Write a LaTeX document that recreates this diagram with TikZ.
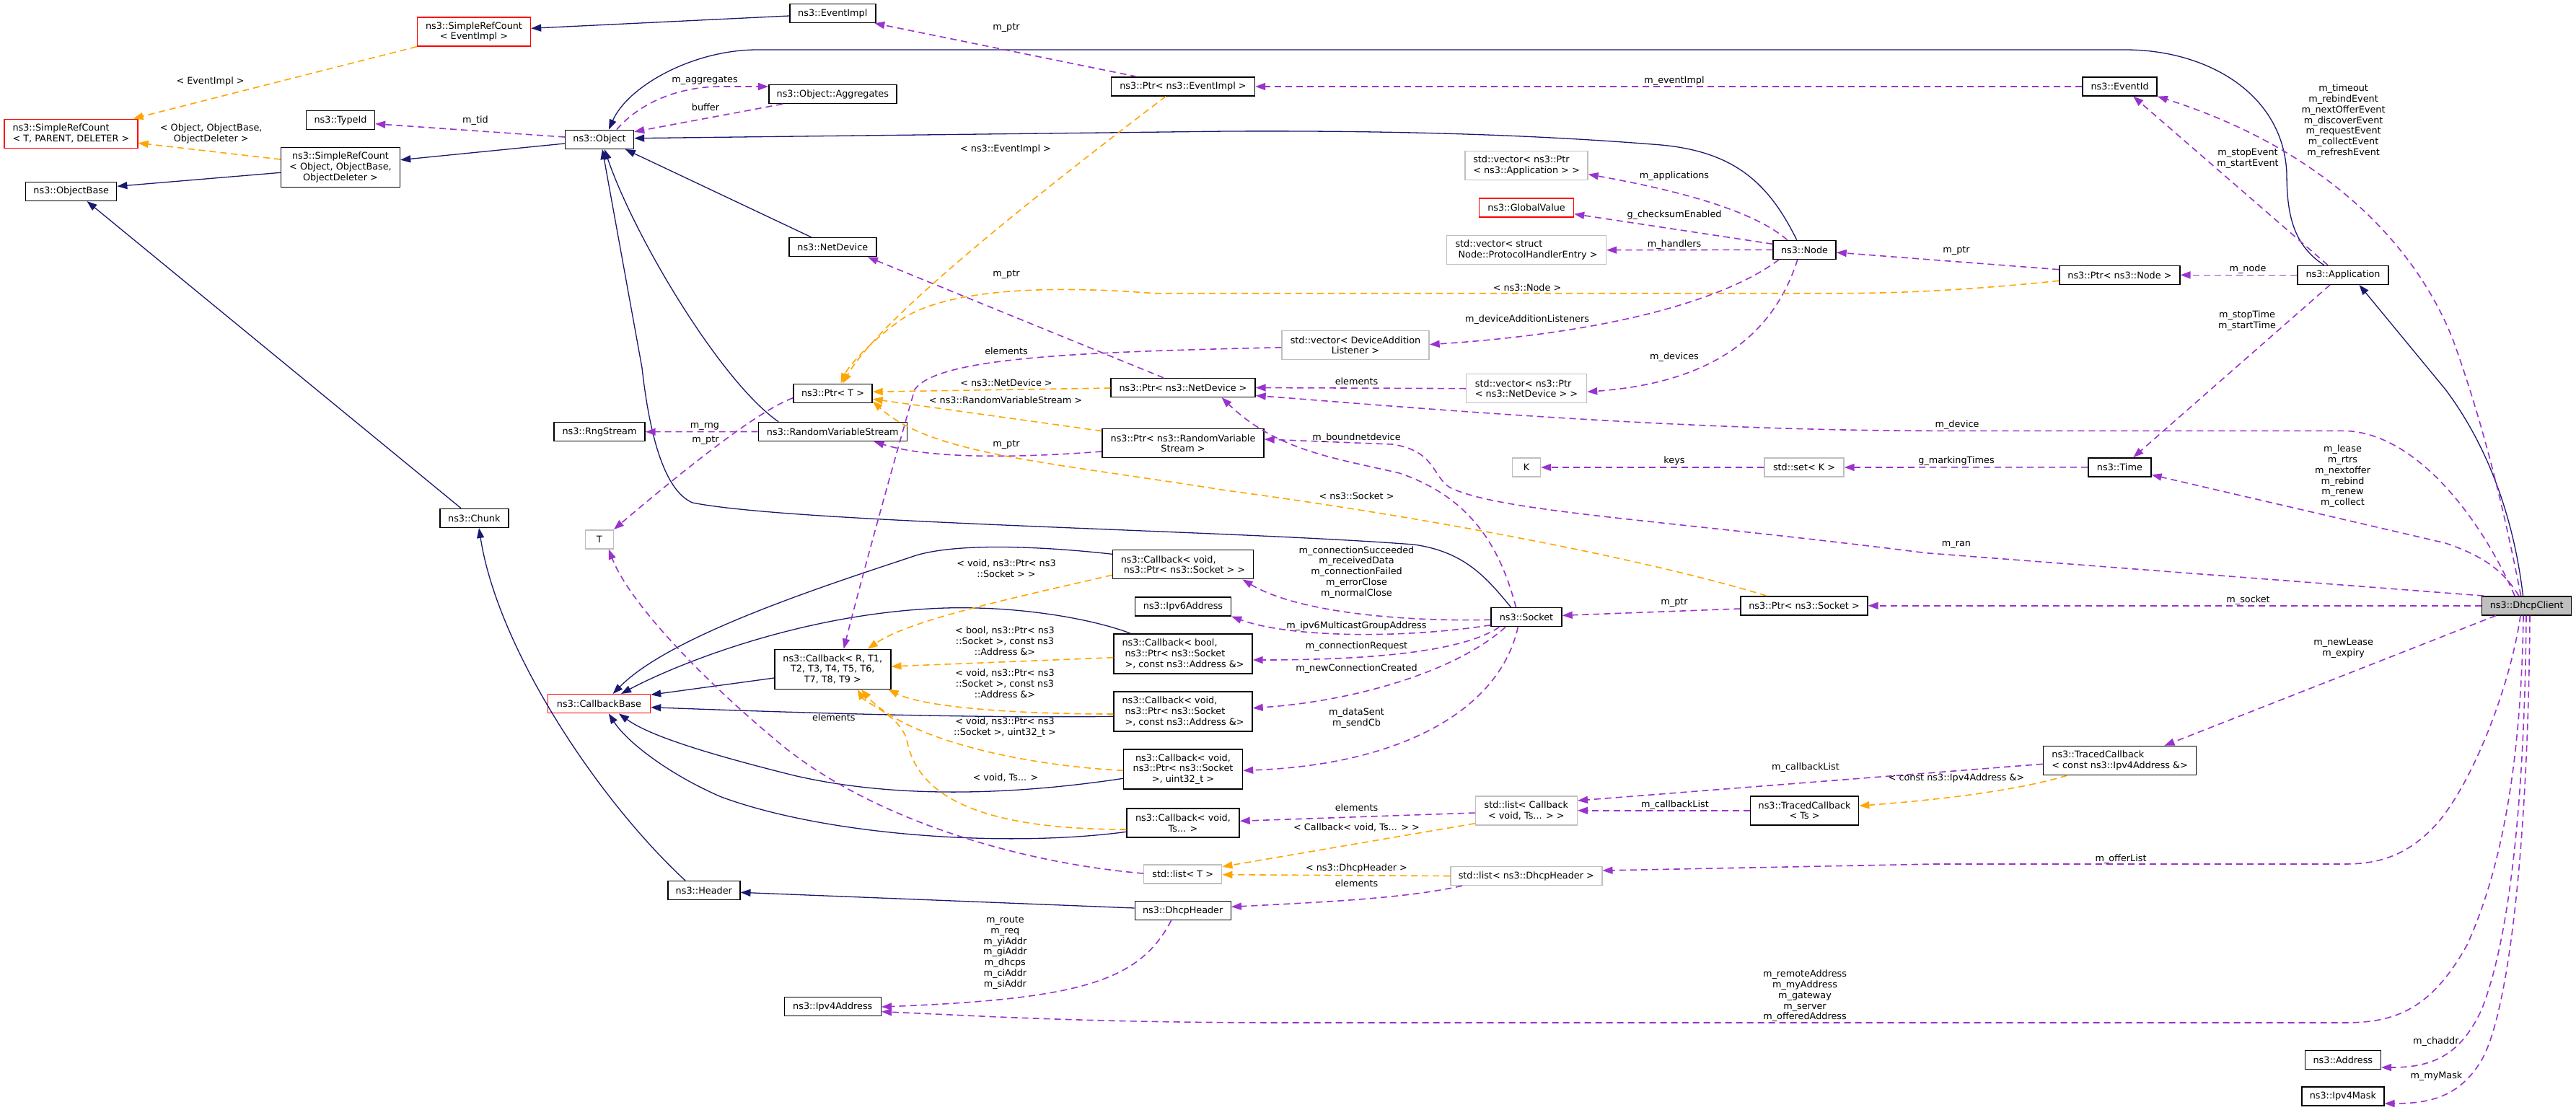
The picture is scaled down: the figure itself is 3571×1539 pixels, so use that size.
\documentclass[tikz,border=0pt]{standalone}
\usepackage{fontspec}
\setmainfont{DejaVu Sans}
\usetikzlibrary{arrows.meta}
\definecolor{inhc}{HTML}{191970}
\definecolor{usec}{HTML}{9A32CD}
\definecolor{tplc}{HTML}{FFA500}
\definecolor{grayb}{HTML}{BFBFBF}
\begin{document}
\begin{tikzpicture}[x=1pt,y=-1pt,
  every node/.style={font=\fontsize{12.8}{14.8}\selectfont},
  box/.style={draw=black, fill=white, line width=1.4pt, inner xsep=4pt, inner ysep=3pt, align=center},
  gbox/.style={box, draw=grayb},
  rbox/.style={box, draw=red},
  lbl/.style={align=center, inner sep=0pt},
  inh/.style={draw=inhc, line width=1.3pt, -{Triangle[length=14pt,width=10pt]}},
  use/.style={draw=usec, line width=1.6pt, dash pattern=on 9pt off 6pt, -{Triangle[length=14pt,width=10pt]}},
  tpl/.style={use, draw=tplc},
]
\useasboundingbox (0,0) rectangle (3571,1539);
% ---------- nodes ----------
\node[rbox, minimum width=157pt, minimum height=40pt] (srcEI) at (657,44) {ns3::SimpleRefCount\\< EventImpl >};
\node[rbox, minimum width=185pt, minimum height=40pt, align=left] (srcT) at (98.4,185.2) {ns3::SimpleRefCount\\< T, PARENT, DELETER >};
\node[box, minimum width=95pt, minimum height=26pt] (typeid) at (472,166.7) {ns3::TypeId};
\node[box, minimum width=95pt, minimum height=26pt] (object) at (831,193.3) {ns3::Object};
\node[box, minimum width=165pt, minimum height=55pt] (srcO) at (472,232) {ns3::SimpleRefCount\\< Object, ObjectBase,\\ObjectDeleter >};
\node[box, minimum width=126pt, minimum height=26pt] (objbase) at (98.7,265.3) {ns3::ObjectBase};
\node[box, minimum width=119pt, minimum height=26pt] (eventimpl) at (1154.3,18.5) {ns3::EventImpl};
\node[box, minimum width=177pt, minimum height=26pt] (aggr) at (1154.3,130.5) {ns3::Object::Aggregates};
\node[box, minimum width=199pt, minimum height=26pt] (ptrEI) at (1640,120) {ns3::Ptr< ns3::EventImpl >};
\node[box, minimum width=121pt, minimum height=26pt] (netdev) at (1154.3,342.7) {ns3::NetDevice};
\node[gbox, minimum width=170pt, minimum height=40pt, align=left] (vecApp) at (2116,229.2) {std::vector< ns3::Ptr\\< ns3::Application > >};
\node[rbox, minimum width=131pt, minimum height=26pt] (global) at (2116,287.8) {ns3::GlobalValue};
\node[gbox, minimum width=221pt, minimum height=40pt, align=left] (vecPHE) at (2116,346.7) {std::vector< struct\\\ Node::ProtocolHandlerEntry >};
\node[box, minimum width=87pt, minimum height=26pt] (node) at (2501.5,346.3) {ns3::Node};
\node[gbox, minimum width=204pt, minimum height=40pt] (vecDAL) at (1879,478.7) {std::vector< DeviceAddition\\Listener >};
\node[box, minimum width=103pt, minimum height=26pt] (eventid) at (2938.6,120) {ns3::EventId};
\node[box, minimum width=167pt, minimum height=26pt] (ptrNode) at (2938.4,381.3) {ns3::Ptr< ns3::Node >};
\node[box, minimum width=126pt, minimum height=26pt] (app) at (3248,381.3) {ns3::Application};
\node[box, minimum width=126pt, minimum height=26pt] (rng) at (831,598.7) {ns3::RngStream};
\node[box, minimum width=95pt, minimum height=26pt] (chunk) at (657.3,718.3) {ns3::Chunk};
\node[gbox, minimum width=39pt, minimum height=26pt] (T) at (830.7,747.8) {T};
\node[rbox, minimum width=142pt, minimum height=26pt] (cbbase) at (830.5,975.7) {ns3::CallbackBase};
\node[box, minimum width=109pt, minimum height=26pt] (ptrT) at (1154.5,545.2) {ns3::Ptr< T >};
\node[box, minimum width=206pt, minimum height=26pt] (rvs) at (1154.3,598.5) {ns3::RandomVariableStream};
\node[box, minimum width=200pt, minimum height=26pt] (ptrND) at (1640,537.5) {ns3::Ptr< ns3::NetDevice >};
\node[box, minimum width=224pt, minimum height=40pt] (ptrRVS) at (1640,614.7) {ns3::Ptr< ns3::RandomVariable\\Stream >};
\node[box, minimum width=195pt, minimum height=40pt, align=left] (cbSock) at (1640,782.7) {ns3::Callback< void,\\\ ns3::Ptr< ns3::Socket > >};
\node[box, minimum width=133pt, minimum height=26pt] (ipv6) at (1640,841) {ns3::Ipv6Address};
\node[box, minimum width=161pt, minimum height=55pt] (cbR) at (1154.3,927.8) {ns3::Callback< R, T1,\\T2, T3, T4, T5, T6,\\T7, T8, T9 >};
\node[box, minimum width=192pt, minimum height=55pt, align=left] (cbBool) at (1640,906.5) {ns3::Callback< bool,\\\ ns3::Ptr< ns3::Socket\\\ >, const ns3::Address \&>};
\node[box, minimum width=192pt, minimum height=55pt, align=left] (cbAddr) at (1640,986.3) {ns3::Callback< void,\\\ ns3::Ptr< ns3::Socket\\\ >, const ns3::Address \&>};
\node[box, minimum width=165pt, minimum height=55pt] (cbU32) at (1640,1066.5) {ns3::Callback< void,\\ns3::Ptr< ns3::Socket\\>, uint32\_t >};
\node[box, minimum width=156pt, minimum height=40pt] (cbTs) at (1640,1141) {ns3::Callback< void,\\Ts... >};
\node[gbox, minimum width=108pt, minimum height=26pt] (listT) at (1639.7,1212) {std::list< T >};
\node[box, minimum width=100pt, minimum height=26pt] (header) at (975.8,1234.5) {ns3::Header};
\node[box, minimum width=133pt, minimum height=26pt] (dhcpHdr) at (1639.7,1262.5) {ns3::DhcpHeader};
\node[box, minimum width=134pt, minimum height=26pt] (ipv4) at (1154.3,1395.5) {ns3::Ipv4Address};
\node[gbox, minimum width=141pt, minimum height=40pt] (listCb) at (2115.8,1123.8) {std::list< Callback\\< void, Ts... > >};
\node[box, minimum width=150pt, minimum height=40pt] (tcTs) at (2501.6,1123.8) {ns3::TracedCallback\\< Ts >};
\node[gbox, minimum width=210pt, minimum height=26pt] (listDH) at (2115.8,1214.5) {std::list< ns3::DhcpHeader >};
\node[box, minimum width=212pt, minimum height=40pt, align=left] (tcIpv4) at (2938.6,1054.5) {ns3::TracedCallback\\< const ns3::Ipv4Address \&>};
\node[box, minimum width=105pt, minimum height=26pt] (address) at (3247.8,1469.5) {ns3::Address};
\node[box, minimum width=114pt, minimum height=26pt] (ipv4mask) at (3247.8,1520) {ns3::Ipv4Mask};
\node[box, minimum width=87pt, minimum height=26pt] (time) at (2938.4,647.8) {ns3::Time};
\node[box, fill=grayb, minimum width=124pt, minimum height=26pt] (dhcp) at (3502.7,839.8) {ns3::DhcpClient};
\node[gbox, minimum width=167pt, minimum height=40pt, align=left] (vecND) at (2116,538.7) {std::vector< ns3::Ptr\\< ns3::NetDevice > >};
\node[gbox, minimum width=39pt, minimum height=26pt] (K) at (2116,648) {K};
\node[gbox, minimum width=110pt, minimum height=26pt] (setK) at (2501,648) {std::set< K >};
\node[box, minimum width=98pt, minimum height=26pt] (socket) at (2116,855.7) {ns3::Socket};
\node[box, minimum width=176pt, minimum height=26pt] (ptrSock) at (2501,839.8) {ns3::Ptr< ns3::Socket >};
% ---------- inheritance ----------
\draw[inh] ([yshift=-3.5pt]eventimpl.west) -- ([yshift=4.7pt]srcEI.east);
\draw[inh] ([yshift=-5.7pt]object.west) -- ([yshift=10.3pt]srcO.east);
\draw[inh] ([yshift=-7.3pt]srcO.west) -- ([yshift=7pt]objbase.east);
\draw[inh] ([xshift=-18.3pt]chunk.north) -- ([xshift=21.8pt]objbase.south);
\draw[inh] ([xshift=-25.8pt]header.north) .. controls (830,1110) and (690,900) .. ([xshift=6.7pt]chunk.south);
\draw[inh] ([xshift=-26.4pt]app.north) .. controls (3180,340) and (3170,300) .. (3170,240) .. controls (3165,130) and (3060,69) .. (2946,69) -- (1050,69) .. controls (960,69) and (870,120) .. ([xshift=13pt]object.north);
\draw[inh] ([xshift=-10.8pt]node.north) .. controls (2450,250) and (2400,207) .. (2290,200) .. controls (2100,185) and (1900,181) .. (1700,182) -- ([yshift=1.6pt]object.east);
\draw[inh] ([xshift=-29.3pt]netdev.north) -- ([xshift=35.8pt]object.south);
\draw[inh] ([xshift=-75pt]rvs.north) .. controls (1000,530) and (880,330) .. ([xshift=7pt]object.south);
\draw[inh] ([xshift=-21.4pt]socket.north) .. controls (2060,800) and (2030,765) .. (1960,755) .. controls (1700,735) and (1100,725) .. (960,697) .. controls (920,680) and (900,600) .. (890,510) -- ([xshift=4pt]object.south);
\draw[inh] ([yshift=-12.2pt]cbR.west) -- ([yshift=12.4pt]cbbase.east);
\draw[inh] ([yshift=14.4pt]cbSock.west) .. controls (1450,758) and (1330,752) .. (1270,770) .. controls (1150,810) and (930,880) .. ([xshift=19.1pt]cbbase.north);
\draw[inh] ([xshift=-72.6pt]cbBool.north) .. controls (1520,860) and (1420,840) .. (1310,843) .. controls (1100,850) and (920,930) .. ([xshift=30.5pt]cbbase.north);
\draw[inh] ([yshift=-7pt]cbAddr.west) .. controls (1350,996) and (1100,988) .. ([yshift=-5pt]cbbase.east);
\draw[inh] ([yshift=-12.8pt]cbU32.west) .. controls (1420,1100) and (1250,1110) .. (1100,1075) .. controls (980,1045) and (900,1020) .. ([xshift=27.5pt]cbbase.south);
\draw[inh] ([yshift=-12.3pt]cbTs.west) .. controls (1400,1175) and (1150,1160) .. (1000,1105) .. controls (930,1075) and (870,1030) .. ([xshift=13.3pt]cbbase.south);
\draw[inh] ([yshift=3.5pt]dhcpHdr.west) -- ([yshift=-2.8pt]header.east);
\draw[inh] ([xshift=-5.2pt]dhcp.north) .. controls (3485,720) and (3450,620) .. (3390,540) -- ([xshift=22.5pt]app.south);
% ---------- usage ----------
\draw[use] ([xshift=-64pt]ptrEI.north) -- ([xshift=58pt]eventimpl.south);
\draw[use] ([yshift=3.3pt]object.west) -- ([yshift=-5pt]typeid.east);
\draw[use] ([xshift=24pt]object.north) .. controls (880,150) and (930,120) .. (1000,120) -- ([yshift=10.5pt]aggr.west);
\draw[use] ([xshift=-69.3pt]aggr.south) -- ([yshift=10.6pt]object.east);
\draw[use] (eventid.west) -- (ptrEI.east);
\draw[use] ([xshift=-21pt]app.north) -- ([xshift=18.7pt]eventid.south);
\draw[use] ([xshift=-8.1pt]dhcp.north) .. controls (3470,700) and (3440,580) .. (3400,470) .. controls (3340,320) and (3200,200) .. (eventid.south east);
\draw[use] (app.west) -- (ptrNode.east);
\draw[use] ([yshift=7.6pt]ptrNode.west) -- ([yshift=-3.7pt]node.east);
\draw[use] ([xshift=-24pt]node.north) .. controls (2440,300) and (2360,270) .. ([yshift=-12.5pt]vecApp.east);
\draw[use] ([yshift=8pt]node.west) -- ([yshift=-8.9pt]global.east);
\draw[use] (node.west) -- (vecPHE.east);
\draw[use] ([xshift=-35.5pt]node.south) .. controls (2400,410) and (2250,460) .. ([yshift=1pt]vecDAL.east);
\draw[use] ([xshift=-9.7pt]node.south) .. controls (2460,460) and (2380,530) .. ([yshift=-4.6pt]vecND.east);
\draw[use] ([xshift=-27pt]ptrND.north) -- ([xshift=48.6pt]netdev.south);
\draw[use] ([yshift=-6.5pt]ptrT.west) .. controls (1050,570) and (950,650) .. (T.north east);
\draw[use] (rvs.west) -- (rng.east);
\draw[use] ([yshift=-11.3pt]ptrRVS.west) .. controls (1450,632) and (1300,640) .. ([xshift=57.2pt]rvs.south);
\draw[use] (vecND.west) -- (ptrND.east);
\draw[use] ([xshift=-16.7pt]dhcp.north) .. controls (3440,720) and (3350,600) .. (3250,597.3) -- (2680,597.3) .. controls (2300,597) and (1900,560) .. ([yshift=-11pt]ptrND.east);
\draw[use] ([xshift=-14.5pt]socket.north) .. controls (2080,760) and (2040,690) .. (1940,656) .. controls (1850,635) and (1770,625) .. ([xshift=53.6pt]ptrND.south);
\draw[use] ([xshift=3pt]dhcp.north west) -- (2670,766.7) .. controls (2300,720) and (2080,710) .. (2010,676) .. controls (1985,660) and (1990,625) .. (1930,616) -- ([yshift=5.7pt]ptrRVS.east);
\draw[use] (dhcp.west) -- (ptrSock.east);
\draw[use] ([yshift=-4.2pt]ptrSock.west) -- ([yshift=2.4pt]socket.east);
\draw[use] ([xshift=-18pt]app.south) -- ([xshift=18.9pt]time.north);
\draw[use] ([xshift=-11pt]dhcp.north) .. controls (3470,790) and (3440,770) .. (3390,753) -- ([yshift=-10.5pt]time.east);
\draw[use] (time.west) -- (setK.east);
\draw[use] (setK.west) -- (K.east);
\draw[use] ([yshift=-3.6pt]socket.west) .. controls (1950,862) and (1800,850) .. ([xshift=82.4pt]cbSock.south);
\draw[use] ([yshift=-11pt]socket.west) .. controls (1950,885) and (1790,885) .. (ipv6.south east);
\draw[use] ([xshift=-37.5pt]socket.south) .. controls (2040,895) and (1950,915) .. ([yshift=-8.5pt]cbBool.east);
\draw[use] ([xshift=-29pt]socket.south) .. controls (2020,930) and (1880,972) .. ([yshift=4.6pt]cbAddr.east);
\draw[use] ([xshift=-11.7pt]socket.south) .. controls (2080,980) and (1950,1060) .. ([yshift=-1.8pt]cbU32.east);
\draw[use] ([yshift=-3pt]vecDAL.west) .. controls (1500,488) and (1300,495) .. (1268,540) .. controls (1245,620) and (1200,780) .. ([xshift=15.3pt]cbR.north);
\draw[use] ([yshift=1pt]listT.west) .. controls (1400,1195) and (1200,1130) .. (1080,1030) .. controls (960,930) and (870,830) .. ([xshift=13.1pt]T.south);
\draw[use] ([yshift=-3.2pt]listCb.west) -- ([yshift=2.7pt]cbTs.east);
\draw[use] (tcTs.west) -- (listCb.east);
\draw[use] ([yshift=-4.8pt]tcIpv4.west) -- ([yshift=13.8pt]listCb.east);
\draw[use] ([xshift=-42.7pt]dhcp.south) -- ([xshift=61.8pt]tcIpv4.north);
\draw[use] ([xshift=-8.7pt]dhcp.south) .. controls (3480,950) and (3430,1080) .. (3380,1140) .. controls (3340,1185) and (3300,1198) .. (3250,1198) -- (2680,1198) -- ([yshift=7.5pt]listDH.east);
\draw[use] ([xshift=-4.7pt]dhcp.south) .. controls (3495,1050) and (3470,1200) .. (3420,1310) .. controls (3370,1400) and (3320,1418) .. (3250,1418) -- (1790,1418) .. controls (1500,1418) and (1350,1408) .. ([yshift=-7.2pt]ipv4.east);
\draw[use] ([xshift=-0.7pt]dhcp.south) .. controls (3500,1100) and (3480,1300) .. (3440,1400) .. controls (3410,1465) and (3370,1480) .. ([yshift=-10.5pt]address.east);
\draw[use] ([xshift=4.3pt]dhcp.south) .. controls (3505,1150) and (3480,1400) .. (3440,1470) .. controls (3410,1520) and (3370,1530) .. ([yshift=-10pt]ipv4mask.east);
\draw[use] ([xshift=-89pt]listDH.south) .. controls (1950,1245) and (1850,1250) .. ([yshift=5.2pt]dhcpHdr.east);
\draw[use] ([xshift=-16.1pt]dhcpHdr.south) .. controls (1580,1360) and (1500,1385) .. ([yshift=-0.5pt]ipv4.east);
% ---------- template ----------
\draw[tpl] (srcEI.south west) -- ([xshift=-7pt]srcT.north east);
\draw[tpl] ([yshift=11pt]srcO.west) -- ([yshift=-13.1pt]srcT.east);
\draw[tpl] ([xshift=-24pt]ptrEI.south) .. controls (1450,260) and (1220,440) .. ([xshift=13.9pt]ptrT.north);
\draw[tpl] ([yshift=-8pt]ptrNode.west) .. controls (2750,400) and (2650,406.7) .. (2550,406.7) -- (1600,406.7) .. controls (1450,395) and (1300,400) .. (1240,450) .. controls (1200,480) and (1175,510) .. ([xshift=11pt]ptrT.north);
\draw[tpl] ([yshift=-0.5pt]ptrND.west) -- ([yshift=2pt]ptrT.east);
\draw[tpl] ([yshift=-3.6pt]ptrRVS.north west) -- ([yshift=-8.1pt]ptrT.east);
\draw[tpl] ([xshift=-52.2pt]ptrSock.north) .. controls (2300,780) and (2000,720) .. (1700,680) .. controls (1450,640) and (1290,630) .. ([yshift=-11pt]ptrT.east);
\draw[tpl] ([yshift=-14.6pt]cbSock.west) .. controls (1400,830) and (1260,860) .. ([xshift=48.6pt]cbR.north);
\draw[tpl] ([yshift=-5.2pt]cbBool.west) -- ([yshift=3.8pt]cbR.east);
\draw[tpl] ([yshift=-3.7pt]cbAddr.west) .. controls (1400,990) and (1280,980) .. ([xshift=77.2pt]cbR.south);
\draw[tpl] ([yshift=-1.8pt]cbU32.west) .. controls (1400,1060) and (1250,1020) .. ([xshift=39.7pt]cbR.south);
\draw[tpl] ([yshift=-9pt]cbTs.west) .. controls (1350,1150) and (1270,1100) .. (1257,1025) .. controls (1245,990) and (1200,975) .. ([xshift=34.2pt]cbR.south);
\draw[tpl] ([yshift=-17.9pt]listCb.west) -- ([yshift=10.3pt]listT.east);
\draw[tpl] (listDH.west) -- ([yshift=-0.7pt]listT.east);
\draw[tpl] ([xshift=-73.2pt]tcIpv4.south) .. controls (2800,1095) and (2700,1108) .. ([yshift=6.5pt]tcTs.east);
% ---------- labels ----------
\node[lbl] (lEI) at (291.6,112.7) {< EventImpl >};
\node[lbl] (lOB) at (292.7,185.7) {< Object, ObjectBase,\\ObjectDeleter >};
\node[lbl] (ltid) at (659,167.3) {m\_tid};
\node[lbl] (lptr1) at (1395,39) {m\_ptr};
\node[lbl] (lagg) at (977,111.7) {m\_aggregates};
\node[lbl] (lbuf) at (978,148.3) {buffer};
\node[lbl] (lnsEI) at (1394,206.7) {< ns3::EventImpl >};
\node[lbl] (lptr2) at (1395,380.7) {m\_ptr};
\node[lbl] (lel1) at (1395,486.7) {elements};
\node[lbl] (levi) at (2321,111.7) {m\_eventImpl};
\node[lbl] (lapps) at (2321,243.7) {m\_applications};
\node[lbl] (lgcs) at (2321,298.3) {g\_checksumEnabled};
\node[lbl] (lhand) at (2321,338.7) {m\_handlers};
\node[lbl] (lnsNode) at (2117,398.3) {< ns3::Node >};
\node[lbl] (ldal) at (2117,442.7) {m\_deviceAdditionListeners};
\node[lbl] (ldev) at (2321,494.7) {m\_devices};
\node[lbl] (ltimeouts) at (3248.6,167.7) {m\_timeout\\m\_rebindEvent\\m\_nextOfferEvent\\m\_discoverEvent\\m\_requestEvent\\m\_collectEvent\\m\_refreshEvent};
\node[lbl] (lse) at (3116,220) {m\_stopEvent\\m\_startEvent};
\node[lbl] (lptr3) at (2712,347.7) {m\_ptr};
\node[lbl] (lnode) at (3116,372.7) {m\_node};
\node[lbl] (lst) at (3115,444.3) {m\_stopTime\\m\_startTime};
\node[lbl] (lnsND) at (1395,530.7) {< ns3::NetDevice >};
\node[lbl] (lnsRVS) at (1394,554.3) {< ns3::RandomVariableStream >};
\node[lbl] (lrng) at (977,591) {m\_rng};
\node[lbl] (lptr4) at (978,610.7) {m\_ptr};
\node[lbl] (lptr5) at (1395,616.7) {m\_ptr};
\node[lbl] (lvps) at (1395,788) {< void, ns3::Ptr< ns3\\::Socket > >};
\node[lbl] (lbool) at (1393,889) {< bool, ns3::Ptr< ns3\\::Socket >, const ns3\\::Address \&>};
\node[lbl] (lvaddr) at (1393,947.7) {< void, ns3::Ptr< ns3\\::Socket >, const ns3\\::Address \&>};
\node[lbl] (lel2) at (1155.8,995) {elements};
\node[lbl] (lvu32) at (1393,1008.3) {< void, ns3::Ptr< ns3\\::Socket >, uint32\_t >};
\node[lbl] (lvts) at (1394,1078.3) {< void, Ts... >};
\node[lbl] (lroute) at (1393.4,1320.8) {m\_route\\m\_req\\m\_yiAddr\\m\_giAddr\\m\_dhcps\\m\_ciAddr\\m\_siAddr};
\node[lbl] (lel3) at (1880.5,528.3) {elements};
\node[lbl] (lbnd) at (1880.5,606.7) {m\_boundnetdevice};
\node[lbl] (lkeys) at (2321,639.3) {keys};
\node[lbl] (lnsSock) at (1880.5,687.7) {< ns3::Socket >};
\node[lbl] (lconn) at (1880.5,793.3) {m\_connectionSucceeded\\m\_receivedData\\m\_connectionFailed\\m\_errorClose\\m\_normalClose};
\node[lbl] (lptr6) at (2321,836) {m\_ptr};
\node[lbl] (lipv6) at (1880.5,867.7) {m\_ipv6MulticastGroupAddress};
\node[lbl] (lcreq) at (1880.5,895.7) {m\_connectionRequest};
\node[lbl] (lncc) at (1880.5,927.3) {m\_newConnectionCreated};
\node[lbl] (lds) at (1880.5,996) {m\_dataSent\\m\_sendCb};
\node[lbl] (ldevice) at (2713,588.7) {m\_device};
\node[lbl] (lgmt) at (2712,639.3) {g\_markingTimes};
\node[lbl] (llease) at (3247.5,660.3) {m\_lease\\m\_rtrs\\m\_nextoffer\\m\_rebind\\m\_renew\\m\_collect};
\node[lbl] (lran) at (2712,755) {m\_ran};
\node[lbl] (lsock) at (3116.5,831.7) {m\_socket};
\node[lbl] (lnl) at (3248.6,899) {m\_newLease\\m\_expiry};
\node[lbl] (lel4) at (1880.5,1119.3) {elements};
\node[lbl] (lcbts) at (1880.5,1147.3) {< Callback< void, Ts... > >};
\node[lbl] (lcbl1) at (2321.9,1115.7) {m\_callbackList};
\node[lbl] (lcbl2) at (2503,1064.3) {m\_callbackList};
\node[lbl] (lcipv4) at (2712,1079.3) {< const ns3::Ipv4Address \&>};
\node[lbl] (lnsDH) at (1880.5,1204.3) {< ns3::DhcpHeader >};
\node[lbl] (lel5) at (1880.5,1224.7) {elements};
\node[lbl] (lremote) at (2502,1381) {m\_remoteAddress\\m\_myAddress\\m\_gateway\\m\_server\\m\_offeredAddress};
\node[lbl] (loffer) at (2940,1190.7) {m\_offerList};
\node[lbl] (lchaddr) at (3376.8,1443.7) {m\_chaddr};
\node[lbl] (lmask) at (3377.4,1491.7) {m\_myMask};
\end{tikzpicture}
\end{document}
